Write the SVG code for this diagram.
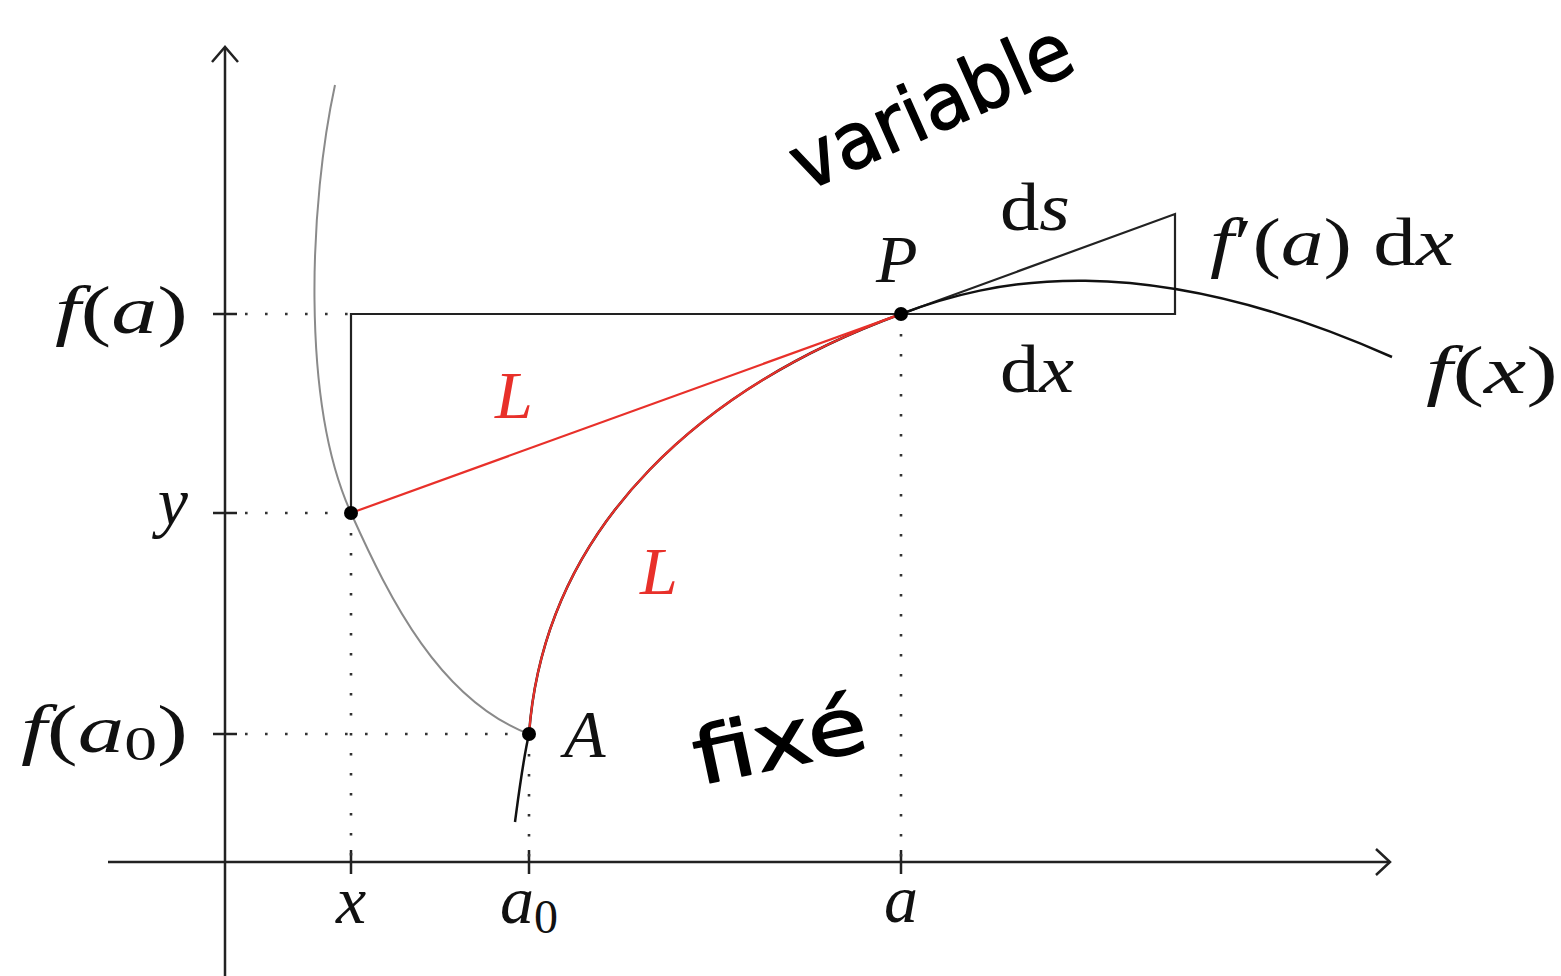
<svg xmlns="http://www.w3.org/2000/svg" width="1561" height="976" viewBox="0 0 1561 976">
<style>
.ax{stroke:#222;stroke-width:2.5;fill:none}
.ln{stroke:#222;stroke-width:2.2;fill:none}
.dot{stroke:#333;stroke-width:2.6;stroke-dasharray:2.6 17.4;fill:none}
.gray{stroke:#8a8a8a;stroke-width:2;fill:none}
.red{stroke:#e8302a;stroke-width:2.2;fill:none}
.blk{stroke:#111;stroke-width:2.5;fill:none}
.pt{fill:#000}
.m{font-family:"Liberation Serif","Times New Roman",serif;font-size:68px;fill:#111}
.i{font-style:italic}
.sub{font-size:48px}
.lr{fill:#e8302a}
.hw{font-family:"DejaVu Sans","Liberation Sans",sans-serif;font-size:78px;fill:#000;stroke:#000;stroke-width:1.5;stroke-linejoin:round}
</style>
<rect width="1561" height="976" fill="#fff"/>
<g id="axes">
<path class="ax" d="M225,976 V47"/>
<path class="ax" d="M212,62 L225,47 L238,62"/>
<path class="ax" d="M108,862 H1390"/>
<path class="ax" d="M1376,849 L1390,862 L1376,875"/>
<path class="ax" d="M213,314 H237 M213,513 H237 M213,734 H237"/>
<path class="ax" d="M351,850 V874 M529,850 V874 M901,850 V874"/>
</g>
<g id="connectors">
<path class="dot" d="M245,314 H351 M245,513 H351 M245,734 H529"/>
<path class="dot" d="M351,533 V862 M529,754 V862 M901,334 V862"/>
<path class="gray" d="M335,85 C310,200 300,400 351,513 C390,600 440,700 529,734"/>
<path class="ln" d="M351,513 V314 H1175 V214 L901,314"/>
<path class="blk" d="M515,822 C519,792 523,760 529,734 C545,520 710,384 901,314 C990,280 1140,245 1392,357"/>
<path class="red" d="M529,734 C545,520 710,384 901,314"/>
<path class="red" d="M351,513 L901,314"/>
</g>
<g id="point-P"><circle class="pt" cx="901" cy="314" r="7"/><text class="m i" x="876" y="282">P</text></g>
<g id="point-A"><circle class="pt" cx="529" cy="734" r="7"/><text class="m i" x="564" y="757">A</text></g>
<g id="point-Q"><circle class="pt" cx="351" cy="513" r="7"/></g>
<g id="labels-y">
<text class="m" x="188" y="333" text-anchor="end" textLength="133" lengthAdjust="spacingAndGlyphs"><tspan class="i">f</tspan>(<tspan class="i">a</tspan>)</text>
<text class="m i" x="188" y="525" text-anchor="end">y</text>
<text class="m" x="188" y="752" text-anchor="end" textLength="167" lengthAdjust="spacingAndGlyphs"><tspan class="i">f</tspan>(<tspan class="i">a</tspan><tspan class="sub" dy="8">0</tspan><tspan dy="-8">)</tspan></text>
</g>
<g id="labels-x">
<text class="m i" x="351" y="923" text-anchor="middle">x</text>
<text class="m" x="529" y="923" text-anchor="middle"><tspan class="i">a</tspan><tspan class="sub" dy="10">0</tspan></text>
<text class="m i" x="901" y="922" text-anchor="middle">a</text>
</g>
<g id="labels-triangle">
<text class="m" x="1000" y="230" textLength="70" lengthAdjust="spacingAndGlyphs">d<tspan class="i">s</tspan></text>
<text class="m" x="1210" y="265" textLength="244" lengthAdjust="spacingAndGlyphs"><tspan class="i">f</tspan>′(<tspan class="i">a</tspan>) d<tspan class="i">x</tspan></text>
<text class="m" x="1000" y="392" textLength="74" lengthAdjust="spacingAndGlyphs">d<tspan class="i">x</tspan></text>
<text class="m" x="1426" y="393" textLength="132" lengthAdjust="spacingAndGlyphs"><tspan class="i">f</tspan>(<tspan class="i">x</tspan>)</text>
</g>
<g id="labels-L">
<text class="m i lr" x="495" y="418">L</text>
<text class="m i lr" x="640" y="594">L</text>
</g>
<g id="note-variable"><text class="hw" transform="translate(805,192) rotate(-24)" textLength="300" lengthAdjust="spacingAndGlyphs">variable</text></g>
<g id="note-fixe"><text class="hw" transform="translate(700,785) rotate(-12)" textLength="175" lengthAdjust="spacingAndGlyphs">fixé</text></g>
</svg>
